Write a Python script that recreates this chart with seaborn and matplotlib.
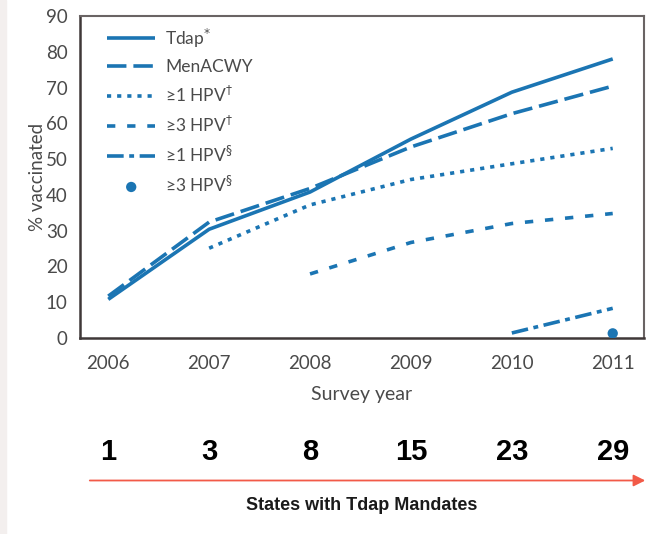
import matplotlib
matplotlib.use("Agg")
import matplotlib.pyplot as plt
import seaborn as sns
import pandas as pd
from matplotlib.patches import Rectangle, FancyArrowPatch
from matplotlib.transforms import blended_transform_factory

years = [2006, 2007, 2008, 2009, 2010, 2011]
tdap = [10.8, 30.4, 40.8, 55.6, 68.7, 78.0]
menacwy = [11.7, 32.4, 41.8, 53.4, 62.7, 70.4]
hpv1_years = [2007, 2008, 2009, 2010, 2011]
hpv1 = [25.1, 37.2, 44.3, 48.7, 53.0]
hpv3_years = [2008, 2009, 2010, 2011]
hpv3 = [17.9, 26.7, 32.0, 34.8]
hpv1m_years = [2010, 2011]
hpv1m = [1.4, 8.3]
hpv3m_years = [2011]
hpv3m = [1.3]
mandates = [1, 3, 8, 15, 23, 29]

blue = "#1b75b3"
sns.set_style("white")
plt.rcParams['font.family'] = ['Lato', 'DejaVu Sans']
plt.rcParams['lines.scale_dashes'] = False

fig = plt.figure(figsize=(6.54, 5.34), dpi=100)
ax = fig.add_axes([80/654, 1 - 338/534, 564/654, 322/534])

series = [
    ("Tdap$^{*}$", years, tdap, "-"),
    ("MenACWY", years, menacwy, (0, (14, 5))),
    ("≥1 HPV$^{\u2020}$", hpv1_years, hpv1, (0, (3, 4.3))),
    ("≥3 HPV$^{\u2020}$", hpv3_years, hpv3, (0, (6, 8.5))),
    ("≥1 HPV$^{\u00a7}$", hpv1m_years, hpv1m, (0, (12, 4, 3.5, 4))),
]
for name, xs, ys, ls in series:
    df = pd.DataFrame({"year": xs, "pct": ys})
    sns.lineplot(data=df, x="year", y="pct", ax=ax, color=blue, lw=2.6,
                 linestyle=ls, label=name, solid_capstyle="butt",
                 dash_capstyle="butt")
df = pd.DataFrame({"year": hpv3m_years, "pct": hpv3m})
sns.scatterplot(data=df, x="year", y="pct", ax=ax, color=blue, s=55,
                edgecolor="none", label="≥3 HPV$^{\u00a7}$", zorder=5)

ax.set_xlim(2005.72, 2011.31)
ax.set_ylim(0, 90)
ax.set_xticks(years)
ax.set_yticks(range(0, 91, 10))
ax.tick_params(axis="both", direction="out", length=8, width=1.6,
               color="#3f3838", labelsize=13.5, labelcolor="#4a4a4a")
ax.tick_params(axis="x", pad=4)
ax.tick_params(axis="y", pad=1)
for s in ["left", "bottom"]:
    ax.spines[s].set_color("#3f3838")
    ax.spines[s].set_linewidth(1.8)
for s in ["top", "right"]:
    ax.spines[s].set_color("#6a6464")
    ax.spines[s].set_linewidth(1.5)
ax.set_xlabel("Survey year", fontsize=14, color="#4a4a4a", labelpad=10)
ax.set_ylabel("% vaccinated", fontsize=13.5, color="#4a4a4a", labelpad=0)

leg = ax.legend(loc="upper left", frameon=False, fontsize=12.5,
                handlelength=2.75, handletextpad=0.6, labelspacing=0.56,
                borderaxespad=0.2, bbox_to_anchor=(0.03, 1.0))
for t in leg.get_texts():
    t.set_color("#4a4a4a")

# mandate counts under each survey year
trans = blended_transform_factory(ax.transData, fig.transFigure)
for yr, n in zip(years, mandates):
    ax.text(yr, 1 - 452/534, str(n), transform=trans,
            ha="center", va="center", fontsize=21, fontweight="bold",
            family=["Liberation Sans", "DejaVu Sans"], color="black")

arrow = FancyArrowPatch((87/654, 1 - 480.5/534), (648/654, 1 - 480.5/534),
                        transform=fig.transFigure, arrowstyle="-|>,head_length=7,head_width=3.5",
                        color="#f25a48", lw=1.3, mutation_scale=1)
fig.patches.append(arrow)
fig.text(362/654, 1 - 505/534, "States with Tdap Mandates", ha="center", va="center",
         fontsize=13, fontweight="bold", family=["Liberation Sans", "DejaVu Sans"],
         color="#1a1a1a")

fig.patches.append(Rectangle((0, 0), 6/654, 1, transform=fig.transFigure,
                             color="#f3efee", zorder=0))

fig.savefig("out.png", dpi=100)
